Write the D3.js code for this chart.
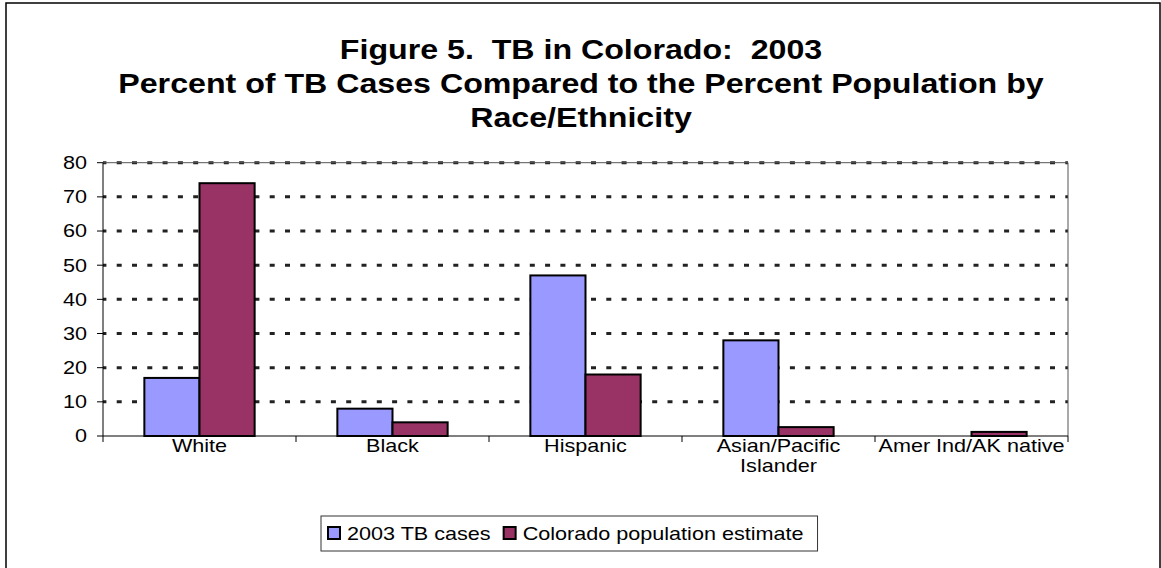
<!DOCTYPE html>
<html>
<head>
<meta charset="utf-8">
<script src="https://cdn.jsdelivr.net/npm/d3@7"></script>
<style>
  body { margin: 0; background: #fff; }
  text { font-family: "Liberation Sans", Arial, sans-serif; fill: #000; white-space: pre; }
</style>
</head>
<body>
<svg id="canvas"></svg>
<script>
// chart data
let titleLines = [
  "Figure 5.  TB in Colorado:  2003",
  "Percent of TB Cases Compared to the Percent Population by",
  "Race/Ethnicity"
]
let categories = ["White", "Black", "Hispanic", "Asian/Pacific Islander", "Amer Ind/AK native"]
let seriesNames = ["2003 TB cases", "Colorado population estimate"]
let tbCases = [17, 8, 47, 28, 0]
let popEstimate = [74, 4, 18, 2.6, 1.2]
let yTicks = [0, 10, 20, 30, 40, 50, 60, 70, 80]
let colors = ["#9999ff", "#993366"]

let width = 1161
let height = 568
// the original picture is a bit stretched sideways, so text is too
let sx = 1.2
let titleSx = 1.17

let canvas = d3.select("#canvas")
canvas.attr("width", width).attr("height", height)

let plot = { left: 103, right: 1068, top: 162.7, bottom: 436 }

let x0 = d3.scaleBand()
           .domain(categories)
           .range([plot.left, plot.right])
let x1 = d3.scaleBand()
           .domain(seriesNames)
           .range([0, x0.bandwidth()])
           .paddingOuter(0.75)
let y = d3.scaleLinear()
          .domain([0, 80])
          .range([plot.bottom, plot.top])

// place a text with the sideways stretch
let putText = (sel, x, yPos, s = sx) => sel.attr("transform", `translate(${x},${yPos}) scale(${s},1)`)

// outer frame
canvas.append("rect")
      .attr("x", 6).attr("y", 3)
      .attr("width", 1154).attr("height", 620)
      .attr("fill", "none")
      .attr("stroke", "#000")
      .attr("stroke-width", 1.5)

// title
titleLines.forEach((line, i) => {
  canvas.append("text")
        .text(line)
        .attr("text-anchor", "middle")
        .attr("font-weight", "bold")
        .attr("font-size", "27.5px")
        .call(putText, 581, 59 + i * 34, titleSx)
})

// gridlines
canvas.append("g")
      .selectAll("line")
      .data(yTicks.filter(t => t > 0))
      .enter().append("line")
      .attr("x1", plot.left).attr("x2", plot.right)
      .attr("y1", t => y(t)).attr("y2", t => y(t))
      .attr("stroke", "#222")
      .attr("stroke-width", 3)
      .attr("stroke-dasharray", "5,10.3")
      .attr("stroke-dashoffset", 1.6)

// plot border (top / right)
canvas.append("path")
      .attr("d", `M${plot.left},${plot.top}H${plot.right}V${plot.bottom}`)
      .attr("fill", "none")
      .attr("stroke", "#555")
      .attr("stroke-width", 1)

// bars
let rows = categories.map((c, i) => ({ category: c, values: [tbCases[i], popEstimate[i]] }))
canvas.append("g")
      .selectAll("g")
      .data(rows)
      .enter().append("g")
      .attr("transform", d => `translate(${x0(d.category)},0)`)
      .selectAll("rect")
      .data(d => d.values.map((v, k) => ({ series: seriesNames[k], value: v, k: k })))
      .enter().append("rect")
      .attr("x", d => x1(d.series))
      .attr("y", d => y(d.value))
      .attr("width", x1.bandwidth())
      .attr("height", d => y(0) - y(d.value))
      .attr("fill", d => colors[d.k])
      .attr("stroke", "#000")
      .attr("stroke-width", 2)

// y axis
let yAxis = canvas.append("g")
yAxis.append("line")
     .attr("x1", plot.left).attr("x2", plot.left)
     .attr("y1", plot.top).attr("y2", plot.bottom)
     .attr("stroke", "#000")
yAxis.selectAll(".ytick")
     .data(yTicks)
     .enter().append("line")
     .attr("class", "ytick")
     .attr("x1", plot.left - 6).attr("x2", plot.left)
     .attr("y1", t => y(t)).attr("y2", t => y(t))
     .attr("stroke", "#000")
yAxis.selectAll("text")
     .data(yTicks)
     .enter().append("text")
     .text(t => t)
     .attr("text-anchor", "end")
     .attr("dominant-baseline", "central")
     .attr("font-size", "18px")
     .each(function (t) { putText(d3.select(this), 87, y(t)) })

// x axis
let xAxis = canvas.append("g")
xAxis.append("line")
     .attr("x1", plot.left).attr("x2", plot.right)
     .attr("y1", plot.bottom).attr("y2", plot.bottom)
     .attr("stroke", "#000")
let bounds = categories.map(c => x0(c)).concat([plot.right])
xAxis.selectAll(".xtick")
     .data(bounds)
     .enter().append("line")
     .attr("class", "xtick")
     .attr("x1", b => b).attr("x2", b => b)
     .attr("y1", plot.bottom).attr("y2", plot.bottom + 6)
     .attr("stroke", "#000")

// category labels, wrapped when wider than the band
function wrapLabel(selection) {
  selection.each(function (c) {
    const node = d3.select(this)
    const words = c.split(" ")
    const maxW = x0.bandwidth()
    let lines = []
    let line = []
    words.forEach(w => {
      line.push(w)
      node.text(line.join(" "))
      if (node.node().getComputedTextLength() * sx > maxW && line.length > 1) {
        line.pop()
        lines.push(line.join(" "))
        line = [w]
      }
    })
    lines.push(line.join(" "))
    node.text("")
    lines.forEach((l, i) => {
      node.append("tspan").attr("x", 0).attr("dy", i === 0 ? 0 : "20px").text(l)
    })
  })
}

xAxis.selectAll("text")
     .data(categories)
     .enter().append("text")
     .attr("text-anchor", "middle")
     .attr("font-size", "18px")
     .each(function (c) { putText(d3.select(this), x0(c) + x0.bandwidth() / 2, 452) })
     .call(wrapLabel)

// legend
let legend = canvas.append("g")
let lx = 328
seriesNames.forEach((name, k) => {
  legend.append("rect")
        .attr("x", lx).attr("y", 527)
        .attr("width", 12).attr("height", 12)
        .attr("fill", colors[k])
        .attr("stroke", "#000")
        .attr("stroke-width", 2)
  let t = legend.append("text")
                .text(name)
                .attr("font-size", "18px")
                .call(putText, lx + 19, 539.5)
  lx = lx + 19 + t.node().getComputedTextLength() * sx + 13
})
legend.insert("rect", ":first-child")
      .attr("x", 321).attr("y", 516)
      .attr("width", lx - 13 + 14 - 321).attr("height", 35)
      .attr("fill", "#fff")
      .attr("stroke", "#333")
      .attr("stroke-width", 1)
</script>
</body>
</html>
